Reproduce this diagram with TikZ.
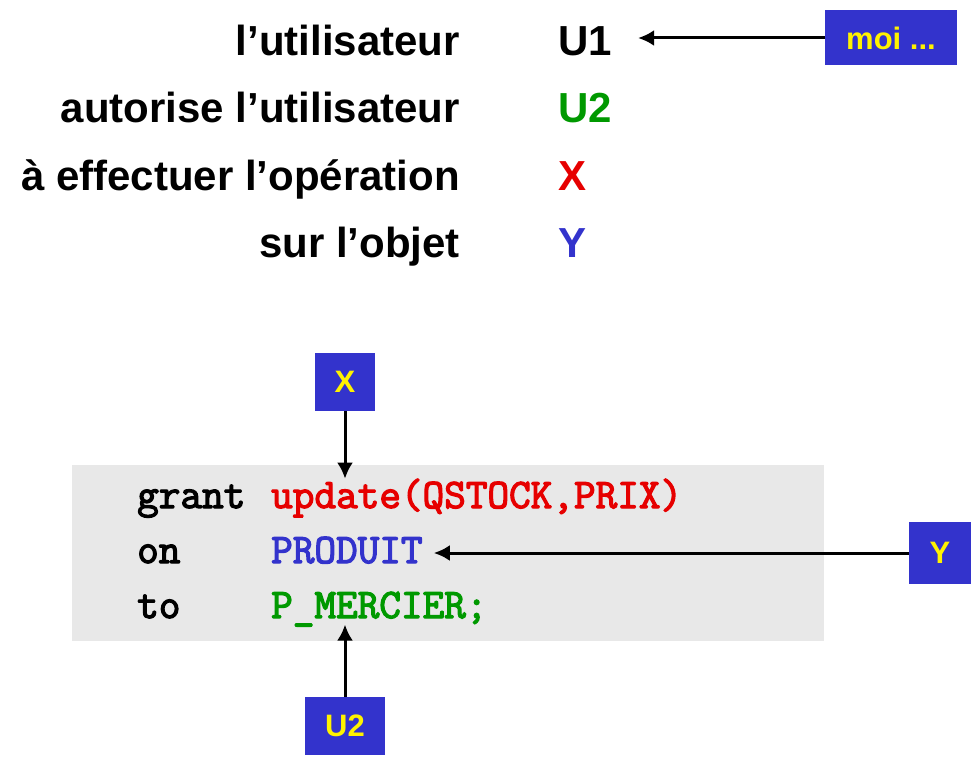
\documentclass[tikz,border=0pt]{standalone}
\usepackage{fontspec}
\setmainfont{Liberation Sans}
\newfontfamily\codefont{Latin Modern Mono}[FakeBold=3]
\usetikzlibrary{arrows.meta,positioning}

\definecolor{tagblue}{RGB}{51,51,204}
\definecolor{sqlred}{RGB}{230,0,0}
\definecolor{sqlgreen}{RGB}{0,153,0}
\definecolor{codegray}{RGB}{232,232,232}

\tikzset{
  phrase/.style={font=\fontsize{42}{48}\selectfont\bfseries, anchor=base east, inner sep=0},
  who/.style={font=\fontsize{42}{48}\selectfont\bfseries, anchor=base west, inner sep=0},
  sql/.style={font=\fontsize{42}{46}\selectfont\codefont, anchor=base west, inner sep=0},
  tagbox/.style={fill=tagblue, text=yellow, font=\fontsize{31}{36}\selectfont\bfseries, inner sep=0},
  pointer/.style={line width=3pt, -{Latex[length=16pt,width=16pt]}}
}

\begin{document}
\begin{tikzpicture}[x=1pt, y=-1pt]
    \useasboundingbox (0,0) rectangle (971,757);
    % the sentence, left column right aligned
    \node[phrase] (p1) at (460, 56) {l’utilisateur};
    \node[phrase] (p2) at (460, 123) {autorise l’utilisateur};
    \node[phrase] (p3) at (460, 190) {à effectuer l’opération};
    \node[phrase] (p4) at (460, 257) {sur l’objet};
    \node[who] (u1) at (558, 56) {U1};
    \node[who, sqlgreen] (u2) at (558, 123) {U2};
    \node[who, sqlred] (opx) at (558, 190) {X};
    \node[who, tagblue] (objy) at (558, 257) {Y};
    \node[tagbox, minimum width=132pt, minimum height=55pt] (moi) at (891, 38) {moi ...};
    \draw[pointer, shorten >=26pt] (moi.west) -- (u1.east |- moi.west);

    % the grant statement
    \fill[codegray] (72, 465) rectangle (824, 641);
    \node[sql] (kgrant) at (137, 508) {grant};
    \node[sql] (kon) at (137, 563) {on};
    \node[sql] (kto) at (137, 618) {to};
    \node[sql, sqlred] (upd) at (271, 508) {update(QSTOCK,PRIX)};
    \node[sql, tagblue] (prod) at (271, 563) {PRODUIT};
    \node[sql, sqlgreen] (merc) at (271, 618) {P\_MERCIER;};

    \node[tagbox, minimum width=60pt, minimum height=58pt] (tagX) at (345, 382) {X};
    \node[tagbox, minimum width=62pt, minimum height=62pt] (tagY) at (940, 553) {Y};
    \node[tagbox, minimum width=80pt, minimum height=58pt] (tagU) at (345, 726) {U2};
    \draw[pointer] (tagX.south) -- (tagX.south |- upd.north);
    \draw[pointer, shorten >=11pt] (tagY.west) -- (prod.east |- tagY.west);
    \draw[pointer, shorten >=-2pt] (tagU.north) -- (tagU.north |- merc.south);
\end{tikzpicture}
\end{document}
